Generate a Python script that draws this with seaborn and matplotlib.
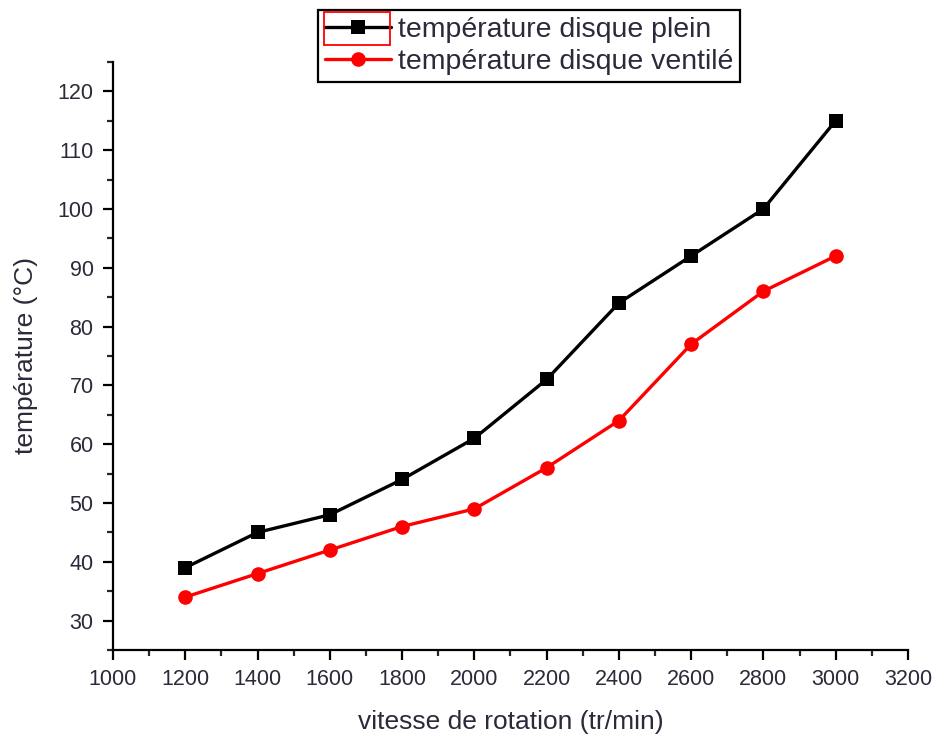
import numpy as np
import pandas as pd
import matplotlib.pyplot as plt
import matplotlib.patches as mpatches
import seaborn as sns

## data
vitesse = [1200, 1400, 1600, 1800, 2000, 2200, 2400, 2600, 2800, 3000]
temp_plein = [39, 45, 48, 54, 61, 71, 84, 92, 100, 115]
temp_ventile = [34, 38, 42, 46, 49, 56, 64, 77, 86, 92]

sns.set_style("ticks")
plt.rcParams['font.family'] = ['Liberation Sans', 'DejaVu Sans']

df = pd.DataFrame({"vitesse": vitesse, "plein": temp_plein, "ventile": temp_ventile})

fig = plt.figure(figsize=(9.36, 7.37), dpi=100)
ax = fig.add_axes([0.1207, 0.118, 0.8493, 0.798])

sns.lineplot(data=df, x="vitesse", y="plein", ax=ax, color="black", marker="s",
             markersize=10, markeredgewidth=0, linewidth=2.4,
             label="température disque plein")
sns.lineplot(data=df, x="vitesse", y="ventile", ax=ax, color="red", marker="o",
             markersize=10.5, markeredgewidth=0, linewidth=2.4,
             label="température disque ventilé")

ax.set_xlim(1000, 3200)
ax.set_ylim(25, 125)
ax.set_xticks(np.arange(1000, 3201, 200))
ax.set_xticks(np.arange(1100, 3200, 200), minor=True)
ax.set_yticks(np.arange(30, 121, 10))
ax.set_yticks(np.arange(25, 126, 10), minor=True)
ax.tick_params(axis="both", which="major", direction="out", length=7, width=1.6,
               labelsize=15.5, colors="black", labelcolor="#2a2a3a", pad=7)
ax.tick_params(axis="both", which="minor", direction="out", length=4, width=1.6)

sns.despine(ax=ax)
for s in ["left", "bottom"]:
    ax.spines[s].set_linewidth(1.6)
    ax.spines[s].set_color("black")

ax.set_xlabel("vitesse de rotation (tr/min)", fontsize=19, color="#2a2a3a", labelpad=14)
ax.set_ylabel("température (°C)", fontsize=19, color="#2a2a3a", labelpad=14)

ax.legend_.remove()
handles, labels = ax.get_legend_handles_labels()
leg = fig.legend(handles, labels, loc="upper left", bbox_to_anchor=(318 / 936, 1 - 10 / 737),
                 fontsize=20.5, frameon=True, fancybox=False, edgecolor="black",
                 handlelength=2.3, handletextpad=0.25, borderpad=0.25, labelspacing=0.2,
                 borderaxespad=0)
leg.get_frame().set_linewidth(1.6)
leg.get_frame().set_alpha(1)
for t in leg.get_texts():
    t.set_color("#2a2a3a")

# red selection box around first legend handle
fig.patches.append(mpatches.Rectangle((324 / 936, 1 - 45 / 737), 66 / 936, 33 / 737,
                                      transform=fig.transFigure, fill=False,
                                      edgecolor="red", linewidth=1.3, zorder=10))

fig.savefig("out.png", dpi=100)
